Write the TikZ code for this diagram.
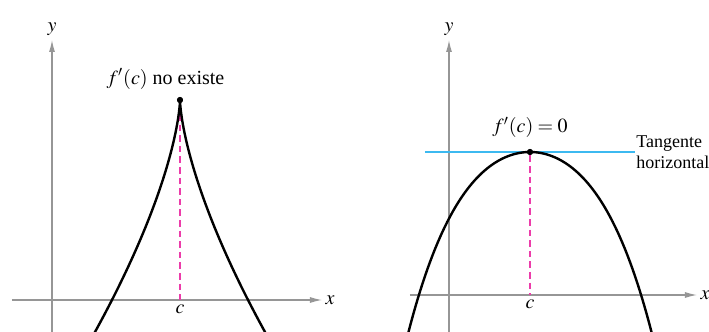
\documentclass[tikz,border=0pt]{standalone}
\usepackage{amsmath}
\usepackage{mathptmx}
\usepackage{fontspec}
\setmainfont{Liberation Serif}
\usepackage{tikz}
\usetikzlibrary{arrows.meta, positioning, calc}

\definecolor{axisgray}{RGB}{150,150,150}
\definecolor{guidepink}{RGB}{236,60,170}
\definecolor{tancyan}{RGB}{60,185,240}

\tikzset{
  axis/.style={draw=axisgray, line width=0.6pt, -{Latex[length=6pt, width=3pt]}},
  graph/.style={line width=1.2pt, black},
  guide/.style={guidepink, line width=0.7pt, dash pattern=on 3.3pt off 2pt},
  dot/.style={circle, fill=black, inner sep=0pt, minimum size=3pt},
}

\begin{document}
\begin{tikzpicture}[x=0.5pt, y=0.5pt, >=Latex, font=\fontsize{10}{11}\selectfont]
  \useasboundingbox (-52,-32) rectangle (657,300);
  % --- cusp: f'(c) does not exist ---
  \begin{scope}[shift={(0,0)}]
    \draw[axis] (-40,0) -- (270,0) node[right, inner sep=1.5pt] (xL) {$x$};
    \draw[axis] (0,-32) -- (0,260) node[above, inner sep=2pt] (yL) {$y$};
    \coordinate (cL) at (128,0);
    \node[dot] (peakL) at (128,200) {};
    \draw[guide] (peakL) -- (cL);
    % semicubical branch, x = c + u^3
    \draw[graph, line join=miter] plot[domain=-4.45:4.45, samples=121, variable=\u]
      ({128+\u*\u*\u}, {200-12*\u*\u});
    \node[dot] at (peakL) {};
    \node[below, inner sep=2pt] (cLab) at (cL) {$c$};
    \node (labL) at (113.5,221) {$f'(c)$ no existe};
  \end{scope}
  % --- smooth maximum: f'(c) = 0 ---
  \begin{scope}[shift={(397,5)}]
    \draw[axis] (-39,0) -- (248,0) node[right, inner sep=1.5pt] (xR) {$x$};
    \draw[axis] (0,-37) -- (0,255) node[above, inner sep=2pt] (yR) {$y$};
    \coordinate (cR) at (81,0);
    \coordinate (tanL) at (-24,143);
    \coordinate (tanR) at (186,143);
    \node[dot] (peakR) at (81,143) {};
    \draw[guide] (peakR) -- (cR);
    \draw[tancyan, line width=0.8pt] (tanL) -- (tanR);
    \draw[graph] plot[domain=-122:122, samples=100, variable=\t]
      ({81+\t}, {143-0.85*(\t/10)^2-25*(\t/100)^4});
    \node[dot] at (peakR) {};
    \node[below, inner sep=2pt] (cRLab) at (cR) {$c$};
    \node[above=2pt of peakR] (labR) {$f'(c)=0$};
    \node[right, align=left, inner sep=0.5pt, font=\fontsize{9}{10.5}\selectfont]
      (tanLab) at (tanR) {Tangente\\horizontal};
  \end{scope}
\end{tikzpicture}
\end{document}
